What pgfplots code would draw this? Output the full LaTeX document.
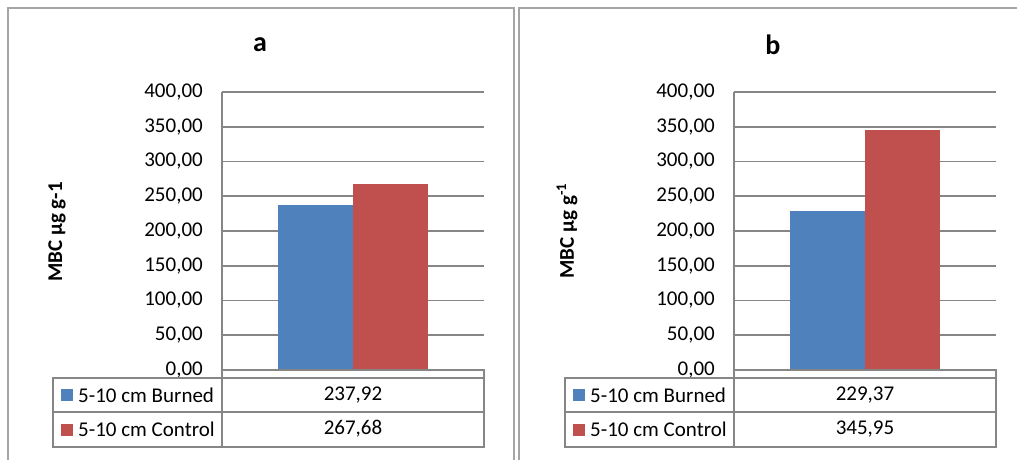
\documentclass[border=0pt]{standalone}
\usepackage{fontspec}
\setmainfont{Carlito}
\usepackage{pgfplots}
\pgfplotsset{compat=1.18}
\definecolor{barblue}{RGB}{79,129,189}
\definecolor{barred}{RGB}{192,80,77}
\definecolor{gridgray}{RGB}{134,134,134}
\definecolor{framegray}{RGB}{165,165,165}

\pgfplotsset{mbc/.style={
    scale only axis, width=262pt, height=278pt, anchor=south west,
    ybar=0pt, bar width=75pt,
    xmin=-1, xmax=1, ymin=0, ymax=400,
    ytick={0,50,...,400}, xtick=\empty,
    axis y line=left, axis x line=bottom,
    axis line style={-, gridgray, line width=1.6pt},
    ymajorgrids, grid style={gridgray, line width=1.6pt},
    major tick length=0pt,
    yticklabel style={font=\fontsize{21}{21}\selectfont, inner sep=0pt, xshift=-19pt,
      /pgf/number format/.cd, fixed, fixed zerofill, precision=2, use comma,
      1000 sep={}, assume math mode=true},
  }}

\newcommand\bigfont{\fontsize{21}{21}\selectfont}

\begin{document}
\begin{tikzpicture}
\useasboundingbox (0,0) rectangle (1017pt,-459pt);

% ---- panel a ----
\draw[framegray, line width=1.6pt] (8pt,-470pt) -- (8pt,-8pt) -- (514pt,-8pt) -- (514pt,-470pt);
\node[font=\bfseries\fontsize{28}{28}\selectfont] at (260pt,-45pt) {a};
\node[rotate=90, font=\bfseries\bigfont] at (57pt,-232pt) {MBC µg g-1};

\begin{axis}[mbc, at={(222pt,-370pt)}]
  \addplot[fill=barblue, draw=none] coordinates {(0,237.92)};
  \addplot[fill=barred, draw=none] coordinates {(0,267.68)};
\end{axis}

\begin{scope}[gridgray, line width=1.6pt]
  \draw (222pt,-370pt) rectangle (484pt,-378pt);
  \draw (53pt,-378pt) rectangle (484pt,-447pt);
  \draw (53pt,-412pt) -- (484pt,-412pt);
  \draw (222pt,-378pt) -- (222pt,-447pt);
\end{scope}
\fill[barblue] (61pt,-389pt) rectangle (73pt,-401pt);
\fill[barred] (61pt,-424pt) rectangle (73pt,-436pt);
\node[anchor=west, font=\bigfont, inner sep=0pt] at (78pt,-395pt) {5-10 cm Burned};
\node[anchor=west, font=\bigfont, inner sep=0pt] at (78pt,-429pt) {5-10 cm Control};
\node[font=\bigfont, inner sep=0pt] at (353pt,-395pt) {237,92};
\node[font=\bigfont, inner sep=0pt] at (353pt,-429pt) {267,68};

% ---- panel b ----
\draw[framegray, line width=1.6pt] (519pt,-470pt) -- (519pt,-8pt) -- (1030pt,-8pt);
\node[font=\bfseries\fontsize{28}{28}\selectfont] at (773pt,-45pt) {b};
\node[rotate=90, font=\bfseries\bigfont] at (567pt,-231pt) {MBC µg g\textsuperscript{-1}};

\begin{axis}[mbc, at={(734pt,-370pt)}]
  \addplot[fill=barblue, draw=none] coordinates {(0,229.37)};
  \addplot[fill=barred, draw=none] coordinates {(0,345.95)};
\end{axis}

\begin{scope}[gridgray, line width=1.6pt]
  \draw (734pt,-370pt) rectangle (996pt,-378pt);
  \draw (565pt,-378pt) rectangle (996pt,-447pt);
  \draw (565pt,-412pt) -- (996pt,-412pt);
  \draw (734pt,-378pt) -- (734pt,-447pt);
\end{scope}
\fill[barblue] (573pt,-389pt) rectangle (585pt,-401pt);
\fill[barred] (573pt,-424pt) rectangle (585pt,-436pt);
\node[anchor=west, font=\bigfont, inner sep=0pt] at (590pt,-395pt) {5-10 cm Burned};
\node[anchor=west, font=\bigfont, inner sep=0pt] at (590pt,-429pt) {5-10 cm Control};
\node[font=\bigfont, inner sep=0pt] at (865pt,-395pt) {229,37};
\node[font=\bigfont, inner sep=0pt] at (865pt,-429pt) {345,95};
\end{tikzpicture}
\end{document}
